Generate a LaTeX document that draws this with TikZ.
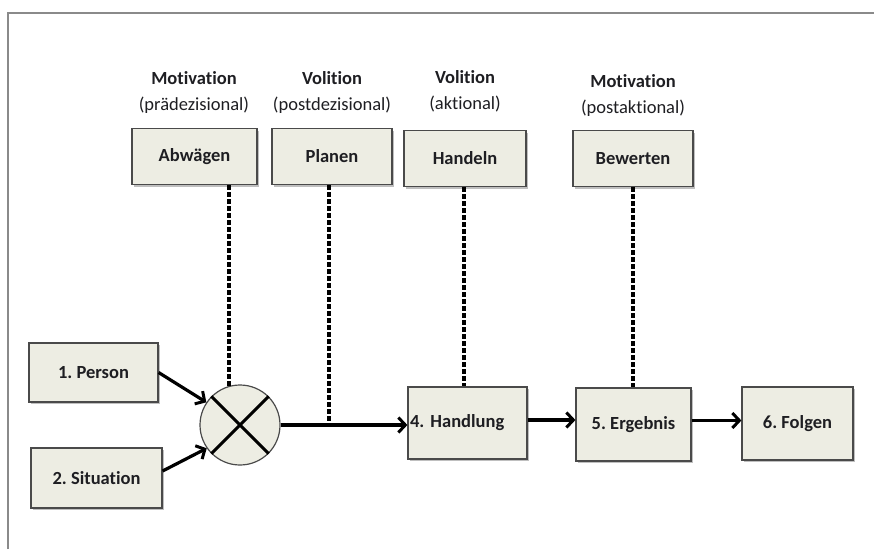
\documentclass[tikz,border=0pt]{standalone}
\usepackage{fontspec}
\setmainfont{Carlito}[Ligatures=NoCommon]
\usetikzlibrary{arrows.meta}
\frenchspacing
\definecolor{boxfill}{HTML}{EDEDE3}
\definecolor{boxline}{HTML}{4A4A4A}
\definecolor{ink}{HTML}{1E1E22}
\definecolor{framegray}{HTML}{8A8A8A}
\tikzset{
  phase/.style={draw=boxline, line width=1.2pt, fill=boxfill, minimum width=#1,
    minimum height=56pt, inner sep=0pt, font=\bfseries\fontsize{18.5}{22}\selectfont,
    text=ink},
  phase/.default=121pt,
  stage/.style={draw=boxline, line width=1.2pt, fill=boxfill, inner sep=0pt,
    font=\bfseries\fontsize{18.5}{22}\selectfont, text=ink},
  heading/.style={align=center, text=ink, font=\fontsize{18.5}{26}\selectfont},
  link/.style={dash pattern=on 5pt off 2pt, line width=3.4pt, black},
  flow/.style={line width=3.2pt, black, -{Straight Barb[length=7pt,width=15pt,line width=3pt]}},
  shade/.style={fill=black!25, draw=none}
}
\begin{document}
\frenchspacing
\begin{tikzpicture}[x=1pt, y=-1pt]
\useasboundingbox (0,0) rectangle (874,549);
\fill[white] (0,0) rectangle (874,549);
% outer frame
\draw[framegray, line width=2pt] (8,549) -- (8,13) -- (874,13);

% phase headings
\node[heading] (h1) at (194,92) {\textbf{Motivation}\\(prädezisional)};
\node[heading] (h2) at (332,92) {\textbf{Volition}\\(postdezisional)};
\node[heading] (h3) at (465,91) {\textbf{Volition}\\(aktional)};
\node[heading] (h4) at (633,95) {\textbf{Motivation}\\(postaktional)};

% phase boxes
\fill[shade] (134,131) rectangle (259,187);
\fill[shade] (274,131) rectangle (394,187);
\fill[shade] (406,133) rectangle (528,189);
\fill[shade] (575,133) rectangle (695,189);
\node[phase=125pt] (abw) at (194.5,156.5) {Abwägen};
\node[phase=120pt] (plan) at (332,156.5) {Planen};
\node[phase=122pt] (handeln) at (465,158.5) {Handeln};
\node[phase=120pt] (bew) at (633,158.5) {Bewerten};

% process boxes
\fill[shade] (31,345) rectangle (160,404);
\fill[shade] (33,450) rectangle (164,510);
\fill[shade] (410,389) rectangle (529,461);
\fill[shade] (578,390) rectangle (693,463);
\fill[shade] (744,389) rectangle (855,462);
\node[stage, minimum width=129pt, minimum height=59pt] (person) at (93.5,372.5) {1. Person\hspace{8pt}};
\node[stage, minimum width=131pt, minimum height=60pt] (sit) at (96.5,478) {2. Situation};
\node[stage, text width=115pt, align=left, inner xsep=2pt, minimum height=72pt] (hand) at (467.5,423) {4. Handlung};
\node[stage, minimum width=115pt, minimum height=73pt] (erg) at (633.5,424.5) {5. Ergebnis};
\node[stage, minimum width=111pt, minimum height=73pt] (folg) at (797.5,423.5) {6. Folgen\hspace{12pt}};

% combination of person and situation
\node[circle, draw=boxline, line width=1.2pt, fill=boxfill, minimum size=80pt, inner sep=0pt] (mix) at (240,425) {};
\draw[line width=3pt] (mix.45) -- (mix.225);
\draw[line width=3pt] (mix.135) -- (mix.315);

% dashed phase links
\draw[link] (mix.106) -- (mix.106 |- abw.south);
\draw[link] ([xshift=-3pt]plan.south) -- ([xshift=-3pt]plan.south |- mix.east);
\draw[link] ([xshift=-1pt]handeln.south) -- ([xshift=-1pt]handeln.south |- hand.north);
\draw[link] (bew.south) -- (bew.south |- erg.north);

% process arrows
\draw[flow] (person.east) -- (mix.146);
\draw[flow] ([yshift=7pt]sit.east) -- (mix.215);
\draw[flow] (mix.east) -- (mix.east -| hand.west);
\draw[flow] ([yshift=3pt]hand.east) -- ([yshift=3pt]hand.east -| erg.west);
\draw[flow] ([yshift=4pt]erg.east) -- ([yshift=4pt]erg.east -| folg.west);
\end{tikzpicture}
\end{document}
